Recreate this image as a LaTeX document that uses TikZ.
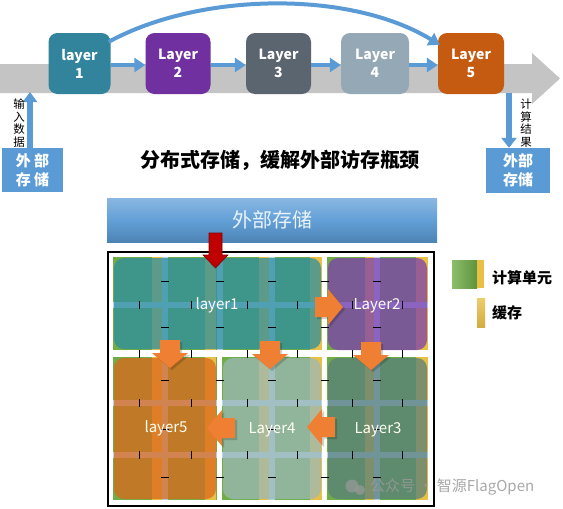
\documentclass[tikz,border=0pt]{standalone}
\usepackage{fontspec}
\setmainfont{Noto Sans CJK SC}
\usetikzlibrary{arrows.meta,calc}
\definecolor{blueA}{HTML}{5B9BD5}
\definecolor{c1}{HTML}{31849B}
\definecolor{c2}{HTML}{7030A0}
\definecolor{c3}{HTML}{5A6570}
\definecolor{c4}{HTML}{95A8B6}
\definecolor{c5}{HTML}{C55A11}
\definecolor{bandc}{HTML}{C4C4C4}
\definecolor{tgreen}{HTML}{70AD47}
\definecolor{tyellow}{HTML}{E9C046}
\definecolor{tline}{HTML}{B7D5EC}
\definecolor{ov1}{HTML}{2D8FA0}
\definecolor{ov2}{HTML}{7D3FB0}
\definecolor{ov3}{HTML}{597F7B}
\definecolor{ov4}{HTML}{9CB9B7}
\definecolor{ov5}{HTML}{DB691D}
\definecolor{oarr}{HTML}{EF7F32}
\definecolor{darkred}{HTML}{C00000}
\definecolor{wm}{HTML}{9A9A9A}

\newcommand\OArrow[3]{%
  \fill[black,opacity=.18,shift={(#1+2,#2+2)},rotate=#3] (0,0) -- (-15,-18) -- (-15,-10) -- (-28,-10) -- (-28,10) -- (-15,10) -- (-15,18) -- cycle;
  \fill[oarr,shift={(#1,#2)},rotate=#3] (0,0) -- (-15,-18) -- (-15,-10) -- (-28,-10) -- (-28,10) -- (-15,10) -- (-15,18) -- cycle;}

\tikzset{
  topbox/.style={rounded corners=9, minimum height=61, inner sep=0, text=white,
    font=\fontsize{14}{18}\selectfont\bfseries, align=center},
  bluearr/.style={draw=blueA, line width=4.5, -{Triangle[length=11pt,width=14pt]}},
  storebox/.style={fill=blueA, text=white, inner sep=0, align=center,
    font=\fontsize{15}{19}\selectfont\bfseries},
  vtext/.style={font=\fontsize{11.5}{12.6}\selectfont, align=center, inner sep=0},
  ovl/.style={rounded corners=10, inner sep=0, fill opacity=.75},
  lbl/.style={text=white!95!yellow, font=\fontsize{15}{17}\selectfont, inner sep=0},
  tick/.style={black, line width=0.7},
  gline/.style={tline, line width=6},
}

\begin{document}
\begin{tikzpicture}[x=1pt,y=-1pt]
\useasboundingbox (0,0) rectangle (563,509);
\fill[white] (0,0) rectangle (563,509);

% ---------- top pipeline ----------
\fill[bandc] (0,64) -- (532,64) -- (532,53) -- (560,78.5) -- (532,104) -- (532,93) -- (0,93) -- cycle;

\node[topbox, fill=c1, minimum width=62] (L1) at (79.5,63.5) {layer\\1};
\node[topbox, fill=c2, minimum width=65] (L2) at (178,63.5) {Layer\\2};
\node[topbox, fill=c3, minimum width=65] (L3) at (278.5,63.5) {Layer\\3};
\node[topbox, fill=c4, minimum width=68] (L4) at (375,63.5) {Layer\\4};
\node[topbox, fill=c5, minimum width=66] (L5) at (471,63.5) {Layer\\5};

\draw[bluearr] ($(L1.east)+(0,1.5)$) -- ($(L2.west)+(0,1.5)$);
\draw[bluearr] ($(L2.east)+(0,1.5)$) -- ($(L3.west)+(0,1.5)$);
\draw[bluearr] ($(L3.east)+(0,1.5)$) -- ($(L4.west)+(0,1.5)$);
\draw[bluearr] ($(L4.east)+(0,1.5)$) -- ($(L5.west)+(0,1.5)$);
\draw[bluearr, line width=4] ($(L1.north east)+(-2,9)$) .. controls (200,-8) and (350,-10) .. ($(L5.north west)+(2,12)$);

\node[storebox, minimum width=61, minimum height=44] (SL) at (32.5,170) {外 部\\存 储};
\node[storebox, minimum width=64, minimum height=45] (SR) at (518,170.5) {外部\\存储};

\coordinate (inL) at (30,92);
\coordinate (outR) at (509,93);
\draw[bluearr, line width=6, -{Triangle[length=10pt,width=14pt]}] (inL |- SL.north) -- (inL);
\draw[bluearr, line width=6, -{Triangle[length=10pt,width=15pt]}] (outR) -- (outR |- SR.north);

\node[vtext] (tin) at (19,123) {输\\入\\数\\据};
\node[vtext] (tout) at (526,123) {计\\算\\结\\果};

\node[font=\fontsize{20}{24}\selectfont\bfseries, inner sep=0] (title) at (280,160) {分布式存储，缓解外部访存瓶颈};

% ---------- bottom ----------
\node[minimum width=330, minimum height=44, inner sep=0, top color=blueA!72!white, bottom color=blueA!85!black, middle color=blueA!95!white,
      text=white!88!blueA, font=\fontsize{20}{24}\selectfont] (B) at (272,220) {外部存储};

\draw[line width=2.5] (108,252) rectangle (434,506);

% tiles
\fill[tgreen] (113,257) rectangle (322,350);
\fill[tgreen] (327,257) rectangle (428,350);
\fill[tgreen] (113,357) rectangle (217,500);
\fill[tgreen] (222,357) rectangle (322,500);
\fill[tgreen] (327,357) rectangle (428,500);
% cache strips
\foreach \a/\b in {152/163,205/216,259/270,310/322,365/376,416/428}{
  \fill[tyellow] (\a,257) rectangle (\b,350);
  \fill[tyellow] (\a,357) rectangle (\b,500);
}
% interconnect lines
\foreach \x in {165,219.5,272,377} \draw[gline] (\x,257) -- (\x,350);
\foreach \x in {165,272,377} \draw[gline] (\x,357) -- (\x,500);
\draw[gline] (113,305) -- (322,305);
\draw[gline] (327,305) -- (428,305);
\foreach \y in {403,455}{
  \draw[gline] (113,\y) -- (217,\y);
  \draw[gline] (222,\y) -- (322,\y);
  \draw[gline] (327,\y) -- (428,\y);
}

% layer overlays
\node[ovl, fill=ov1, minimum width=207, minimum height=91] (G1) at (217.5,303.5) {};
\node[ovl, fill=ov2, minimum width=99, minimum height=92] (G2) at (377.5,304) {};
\node[ovl, fill=ov5, minimum width=102, minimum height=141] (G5) at (165,428.5) {};
\node[ovl, fill=ov4, minimum width=98, minimum height=141] (G4) at (272,428.5) {};
\node[ovl, fill=ov3, minimum width=99, minimum height=141] (G3) at (377.5,428.5) {};

% ticks
\foreach \x in {139,191,247,297,352,402}{
  \draw[tick] (\x,301) -- (\x,309);
  \draw[tick] (\x,349.5) -- (\x,357.5);
  \draw[tick] (\x,399) -- (\x,407);
  \draw[tick] (\x,451) -- (\x,459);
}
\foreach \x in {165,219.5,272,324.5,377}{
  \foreach \y in {281,327,380,429,477}{
    \draw[tick] (\x-4,\y) -- (\x+4,\y);
  }
}

% labels
\node[lbl] (t1) at (217,305) {layer1};
\node[lbl] (t2) at (377,306) {Layer2};
\node[lbl] (t5) at (166,428) {layer5};
\node[lbl] (t4) at (272,430) {Layer4};
\node[lbl] (t3) at (378,430) {Layer3};

% orange data-flow arrows
\OArrow{343}{307}{0}
\OArrow{170}{368}{-90}
\OArrow{270}{369}{-90}
\OArrow{371}{370}{-90}
\OArrow{307}{427}{180}
\OArrow{207}{428}{180}

% red arrow from external storage
\fill[darkred, draw=darkred!70!black, line width=0.6] (209,233) -- (222,233) -- (222,255) -- (228,255) -- (215.5,268) -- (203,255) -- (209,255) -- cycle;

% legend
\node[inner sep=0, minimum width=25, minimum height=28, left color=tgreen!80!white, right color=tgreen!85!black] (lg) at (464.5,274) {};
\fill[tyellow] (lg.north east) rectangle ($(lg.south east)+(7,0)$);
\node[anchor=west, inner sep=0, font=\fontsize{15}{18}\selectfont\bfseries] (lgt) at (492,278) {计算单元};
\node[inner sep=0, minimum width=8, minimum height=29, top color=tyellow!80!white, bottom color=tyellow!90!black] (lc) at (481,312.5) {};
\node[anchor=west, inner sep=0, font=\fontsize{15}{18}\selectfont\bfseries] (lct) at (492,313) {缓存};

% watermark
\fill[wm, opacity=.7] (352,486) circle (6.5);
\fill[wm, opacity=.7] (360,490) circle (5);
\node[anchor=west, inner sep=0, text=wm, text opacity=.85, font=\fontsize{15}{18}\selectfont] (wmk) at (370,487) {公众号 · 智源FlagOpen};
\end{tikzpicture}
\end{document}
